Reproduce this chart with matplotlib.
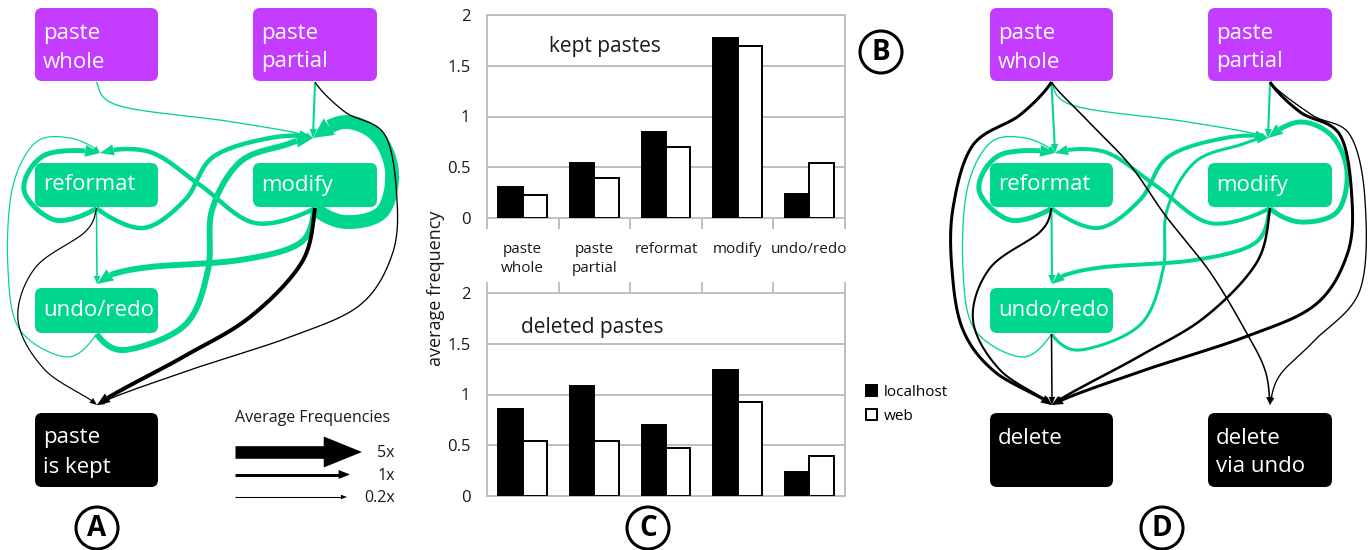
import numpy as np
import matplotlib.pyplot as plt
from matplotlib.patches import FancyBboxPatch, Circle, Polygon

plt.rcParams['font.family'] = ['Open Sans', 'DejaVu Sans']

GREEN = '#00d68f'
PURPLE = '#c43cff'
GRID = '#bfbfbf'
INK = '#1a1a1a'

# average frequency of each action per paste
categories = ['paste\nwhole', 'paste\npartial', 'reformat', 'modify', 'undo/redo']
kept_localhost = [0.31, 0.54, 0.85, 1.77, 0.24]
kept_web = [0.23, 0.39, 0.70, 1.69, 0.54]
deleted_localhost = [0.86, 1.08, 0.70, 1.24, 0.24]
deleted_web = [0.54, 0.54, 0.47, 0.93, 0.39]

# transitions between actions: (from, to, average frequency)
kept_edges = [
    ('whole', 'modify', 0.3),
    ('partial', 'modify', 0.6),
    ('reformat', 'reformat', 1.8),
    ('reformat', 'modify', 1.6),
    ('reformat', 'undo', 0.4),
    ('modify', 'reformat', 1.6),
    ('modify', 'modify', 5.5),
    ('modify', 'undo', 2.2),
    ('undo', 'reformat', 0.25),
    ('undo', 'modify', 2.2),
    ('reformat', 'end', 0.25),
    ('modify', 'end', 1.4),
    ('partial', 'end', 0.3),
]
deleted_edges = [
    ('whole', 'reformat', 0.6),
    ('whole', 'modify', 0.3),
    ('whole', 'end', 1.0),
    ('whole', 'end2', 0.4),
    ('partial', 'modify', 0.6),
    ('partial', 'end', 1.0),
    ('partial', 'end2', 0.3),
    ('reformat', 'reformat', 1.8),
    ('reformat', 'modify', 1.4),
    ('reformat', 'undo', 0.6),
    ('reformat', 'end', 0.6),
    ('modify', 'reformat', 1.4),
    ('modify', 'modify', 1.8),
    ('modify', 'undo', 1.4),
    ('modify', 'end', 0.8),
    ('undo', 'reformat', 0.3),
    ('undo', 'modify', 1.0),
    ('undo', 'end', 0.4),
]
legend_weights = [5, 1, 0.2]
legend_labels = ['5x', '1x', '0.2x']

# node boxes in pixel units: left, top, width, height, colour
BOXES = {
    'whole': (35, 8, 123, 73, PURPLE),
    'partial': (253, 8, 124, 73, PURPLE),
    'reformat': (35, 163, 123, 44, GREEN),
    'modify': (253, 163, 124, 44, GREEN),
    'undo': (35, 288, 123, 45, GREEN),
    'end': (35, 413, 123, 74, 'black'),
    'end2': (253, 413, 124, 74, 'black'),
}
ARRIVE = {'reformat': (100, 153), 'modify': (313, 138), 'undo': (97, 284),
          'end': (97, 405), 'end2': (315, 405)}
ROUTES = {
    ('whole', 'modify'): [(120, 106), (233, 122)],
    ('reformat', 'reformat'): [(55, 220), (24, 190), (45, 155)],
    ('reformat', 'modify'): [(143, 228), (185, 200), (213, 157), (270, 138)],
    ('modify', 'reformat'): [(255, 223), (200, 185), (150, 152)],
    ('modify', 'modify'): [(345, 222), (382, 212), (392, 172), (377, 136), (345, 122)],
    ('modify', 'undo'): [(300, 243), (240, 260), (150, 267), (110, 275)],
    ('undo', 'modify'): [(125, 350), (185, 325), (208, 270), (212, 210), (240, 162), (285, 145)],
    ('undo', 'reformat'): [(67, 357), (20, 330), (8, 270), (12, 190), (35, 143), (70, 138)],
    ('reformat', 'end'): [(85, 232), (35, 268), (18, 320), (45, 370)],
    ('modify', 'end'): [(302, 262), (250, 317), (183, 357)],
    ('partial', 'end'): [(345, 112), (385, 135), (397, 200), (392, 255), (360, 305), (290, 337), (190, 370)],
    ('whole', 'end'): [(65, 115), (18, 145), (-2, 208), (-3, 270), (8, 330), (40, 372)],
    ('whole', 'end2'): [(130, 118), (175, 165), (210, 215), (255, 272), (290, 330), (310, 370)],
    ('partial', 'end2'): [(357, 115), (395, 135), (410, 200), (405, 290), (360, 340), (325, 375)],
}


def smooth(points, n=30):
    p = np.asarray(points, float)
    p = np.vstack([p[0] - [0, 20], p, p[-1] + [0, 20]])
    out = []
    t = np.linspace(0, 1, n, endpoint=False)[:, None]
    for i in range(1, len(p) - 2):
        p0, p1, p2, p3 = p[i - 1], p[i], p[i + 1], p[i + 2]
        out.append(0.5 * (2 * p1 + (p2 - p0) * t + (2 * p0 - 5 * p1 + 4 * p2 - p3) * t ** 2
                          + (3 * p1 - p0 - 3 * p2 + p3) * t ** 3))
    out.append(p[-2][None])
    return np.vstack(out)


def draw_arrow(ax, pts, lw_px, color, hl, hw, z=2):
    s = np.concatenate([[0], np.cumsum(np.hypot(*np.diff(pts, axis=0).T))])
    cut = s[-1] - hl
    k = np.searchsorted(s, cut)
    f = (cut - s[k - 1]) / (s[k] - s[k - 1])
    base = pts[k - 1] + f * (pts[k] - pts[k - 1])
    line = np.vstack([pts[:k], base])
    ax.plot(line[:, 0], line[:, 1], color=color, lw=lw_px * 0.72,
            solid_capstyle='butt', solid_joinstyle='round', zorder=z)
    tip = pts[-1]
    d = (tip - base) / np.linalg.norm(tip - base)
    nrm = np.array([-d[1], d[0]])
    ax.add_patch(Polygon([tip, base + nrm * hw, base - nrm * hw], closed=True,
                         facecolor=color, edgecolor='none', zorder=z))


def weight_px(w):
    return 0.6 + 2.4 * w


def draw_panel(ax, dx, edges, labels):
    # green edges first, black edges to the end states on top
    for src, dst, w in sorted(edges, key=lambda e: e[1].startswith('end')):
        bx, by, bw, bh, _ = BOXES[src]
        start = (bx + bw / 2, by + bh + 1)
        pts = [start] + ROUTES.get((src, dst), []) + [ARRIVE[dst]]
        pts = smooth([(x + dx, y) for x, y in pts])
        lw = weight_px(w)
        color = 'black' if dst.startswith('end') else GREEN
        hl = min(5 + 2.0 * lw, 20)
        hw = min(2 + 0.8 * lw, 10)
        draw_arrow(ax, pts, lw, color, hl, hw, z=2 if color == GREEN else 3)
    for key, text in labels.items():
        bx, by, bw, bh, fc = BOXES[key]
        ax.add_patch(FancyBboxPatch((bx + dx, by), bw, bh, boxstyle='round,pad=0,rounding_size=7',
                                    facecolor=fc, edgecolor='none', zorder=5))
        rows = text.split('\n')
        if bh < 60:
            ys = [by + bh / 2]
        else:
            ys = [by + 25, by + 54][:len(rows)]
        for row, y in zip(rows, ys):
            ax.text(bx + dx + 8, y, row, color='white', fontsize=16, va='center', ha='left', zorder=6)


def badge(ax, x, y, letter):
    ax.add_patch(Circle((x, y), 21, facecolor='white', edgecolor='black', lw=2.2, zorder=6))
    ax.text(x, y + 1, letter, fontsize=20, fontweight='bold', ha='center', va='center', zorder=7)


fig = plt.figure(figsize=(13.7, 5.5), dpi=100)
dg = fig.add_axes([0, 0, 1, 1])
dg.set_xlim(0, 1370)
dg.set_ylim(550, 0)
dg.axis('off')

action_labels = {'whole': 'paste\nwhole', 'partial': 'paste\npartial', 'reformat': 'reformat',
                 'modify': 'modify', 'undo': 'undo/redo'}
draw_panel(dg, 0, kept_edges, {**action_labels, 'end': 'paste\nis kept'})
draw_panel(dg, 955, deleted_edges, {**action_labels, 'end': 'delete', 'end2': 'delete\nvia undo'})

# frequency legend
dg.text(235, 418, 'Average Frequencies', fontsize=11.5, color=INK, va='center', ha='left')
for i, (w, lab) in enumerate(zip(legend_weights, legend_labels)):
    y = 452 + 22.5 * i
    lw = weight_px(w)
    tip_x = 362 - 12 * min(i, 1) - 3 * max(i - 1, 0)
    pts = np.linspace([235, y], [tip_x, y], 50)
    draw_arrow(dg, pts, lw, 'black', 3 + 2.8 * lw, 1 + 1.15 * lw)
    dg.text(395, y + 1, lab, fontsize=11.5, color=INK, va='center', ha='right')

badge(dg, 97, 528, 'A')
badge(dg, 881, 52, 'B')
badge(dg, 648, 528, 'C')
badge(dg, 1162, 528, 'D')


def bar_panel(rect, loc, web, title, title_xy, top):
    ax = fig.add_axes(rect)
    x = np.arange(len(categories))
    bw = 0.34
    b1 = ax.bar(x - bw / 2, loc, bw, color='black', edgecolor='black', lw=1.4, label='localhost', zorder=3)
    b2 = ax.bar(x + bw / 2, web, bw, color='white', edgecolor='black', lw=1.4, label='web', zorder=3)
    ax.set_xlim(-0.5, 4.5)
    ax.set_ylim(0, 2)
    ax.set_yticks([0, 0.5, 1, 1.5, 2])
    ax.set_yticklabels(['0', '0.5', '1', '1.5', '2'])
    ax.yaxis.grid(True, color=GRID, lw=1.4)
    ax.set_axisbelow(True)
    for sp in ax.spines.values():
        sp.set_color(GRID)
        sp.set_linewidth(1.4)
    ax.tick_params(axis='y', length=0, pad=12, labelsize=12, labelcolor=INK)
    ax.set_xticks(np.arange(-0.5, 5), minor=True)
    ax.tick_params(axis='x', which='minor', length=8, width=1.4, color=GRID,
                   bottom=top, top=not top)
    if top:
        ax.set_xticks(x)
        ax.set_xticklabels(categories)
        ax.tick_params(axis='x', which='major', length=0, pad=17, labelsize=11, labelcolor=INK)
        for lbl in ax.get_xticklabels():
            lbl.set_linespacing(1.4)
    else:
        ax.set_xticks([])
    ax.text(*title_xy, title, transform=ax.transAxes, fontsize=15, color=INK, ha='center', va='center')
    return b1, b2


bars = bar_panel([487 / 1370, 1 - 218 / 550, 358 / 1370, 203 / 550],
                 kept_localhost, kept_web, 'kept pastes', (0.33, 0.845), True)
bar_panel([487 / 1370, 1 - 496 / 550, 358 / 1370, 203 / 550],
          deleted_localhost, deleted_web, 'deleted pastes', (0.295, 0.83), False)

fig.text(436 / 1370, 1 - 288 / 550, 'average frequency', rotation=90, fontsize=13,
         color=INK, ha='center', va='center')
fig.legend(bars, ['localhost', 'web'], loc='upper left', bbox_to_anchor=(858 / 1370, 1 - 377 / 550),
           frameon=False, fontsize=11, handlelength=0.75, handleheight=0.75,
           handletextpad=0.45, labelspacing=0.6, borderpad=0)

fig.savefig('out.png', dpi=100)
